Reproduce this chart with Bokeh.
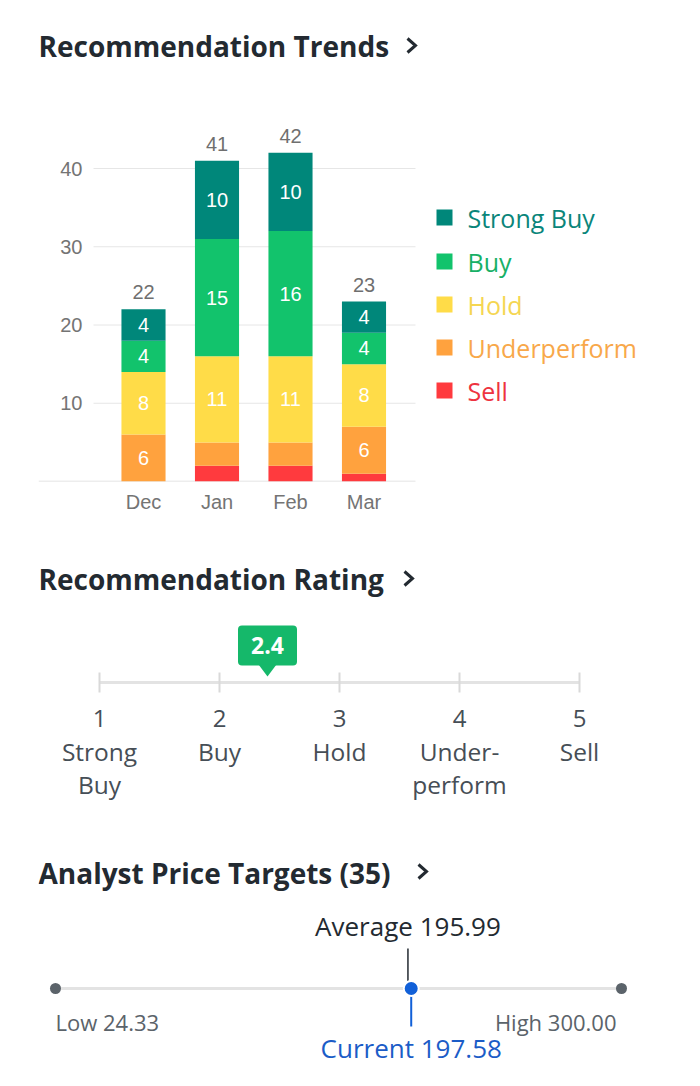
from bokeh.plotting import figure
from bokeh.models import Range1d, FixedTicker, ColumnDataSource
from bokeh.layouts import column
from bokeh.embed import file_html
from bokeh.resources import INLINE
from bokeh.core.properties import value
import numpy as np

# ---------------- data ----------------
months = ["Dec", "Jan", "Feb", "Mar"]
strong_buy = [4, 10, 10, 4]
buy = [4, 15, 16, 4]
hold = [8, 11, 11, 8]
underperform = [6, 3, 3, 6]
sell = [0, 2, 2, 1]
y_ticks = [10, 20, 30, 40]
series_names = ["Strong Buy", "Buy", "Hold", "Underperform", "Sell"]
series_colors = ["#00877a", "#12c36c", "#ffdc48", "#ffa23e", "#ff3a3e"]
legend_text_colors = ["#0a857a", "#17b066", "#f5d652", "#f8a84a", "#ee3340"]

rating_value = 2.4
rating_ticks = [1, 2, 3, 4, 5]
rating_line1 = ["Strong", "Buy", "Hold", "Under-", "Sell"]
rating_line2 = ["Buy", "", "", "perform", ""]

price_low = 24.33
price_high = 300.00
price_average = 195.99
price_current = 197.58
n_targets = 35

TITLE_FONT = value("Open Sans")
BODY_FONT = value("Open Sans")
AXIS_FONT = value("Liberation Sans")
DARK = "#232a31"
GRAY = "#5b636a"
TITLE_SIZE = "28px"

W = 700
H1, H2, H3 = 540, 290, 256
FRAME_LEFT = 38


def chevron(p, x0, cy, **kw):
    p.line(x=[x0, x0 + 8, x0], y=[cy - 7, cy, cy + 7], line_color=DARK,
           line_width=3, line_join="miter", **kw)


# ---------------- figure 1: recommendation trends ----------------
base_y = 481          # pixel row of the baseline
px_per_unit_y = 7.825
px_per_cat = 73.5
first_center = 143

p1 = figure(width=W, height=H1, output_backend="svg", toolbar_location=None,
            x_range=Range1d((FRAME_LEFT - first_center) / px_per_cat,
                            (W - first_center) / px_per_cat),
            y_range=Range1d(0, base_y / px_per_unit_y),
            min_border_left=FRAME_LEFT, min_border_right=0,
            min_border_top=0, min_border_bottom=H1 - base_y)
p1.extra_x_ranges = {"px": Range1d(FRAME_LEFT, W)}
p1.extra_y_ranges = {"px": Range1d(base_y, 0)}
p1.outline_line_color = None
p1.grid.visible = False

xs = list(range(len(months)))
src = ColumnDataSource(dict(x=xs, sell=sell, underperform=underperform, hold=hold,
                            buy=buy, strong_buy=strong_buy))

# grid lines and baseline
p1.segment(x0=[93] * len(y_ticks), x1=[415] * len(y_ticks), y0=y_ticks, y1=y_ticks,
           line_color="#e6e6e6", line_width=1, x_range_name="px")
p1.segment(x0=[FRAME_LEFT], x1=[415], y0=[0], y1=[0],
           line_color="#dcdcdc", line_width=1.5, x_range_name="px")

stack_order = ["sell", "underperform", "hold", "buy", "strong_buy"]
stack_colors = series_colors[::-1]
p1.vbar_stack(stack_order, x="x", width=0.6, color=stack_colors, source=src,
              line_width=0)

# segment labels
vals = np.array([sell, underperform, hold, buy, strong_buy], dtype=float)
bottoms = np.vstack([np.zeros(len(months)), np.cumsum(vals, axis=0)[:-1]])
lx, ly, lt = [], [], []
for i in range(vals.shape[0]):
    for j in range(vals.shape[1]):
        v = vals[i, j]
        if v >= 4:
            lx.append(xs[j])
            ly.append(bottoms[i, j] + v / 2)
            lt.append(str(int(v)))
p1.text(x=lx, y=ly, text=lt, text_align="center", text_baseline="middle",
        text_color="white", text_font=AXIS_FONT, text_font_size="20px")

totals = vals.sum(axis=0)
p1.text(x=xs, y=list(totals), text=[str(int(t)) for t in totals], text_align="center",
        text_baseline="bottom", y_offset=-10, text_color="#6f6f6f",
        text_font=AXIS_FONT, text_font_size="20px")

# axes
p1.yaxis.ticker = FixedTicker(ticks=y_ticks)
p1.yaxis.axis_line_color = None
p1.yaxis.major_tick_line_color = None
p1.yaxis.minor_tick_line_color = None
p1.yaxis.major_tick_out = 0
p1.yaxis.major_label_standoff = -44
p1.yaxis.major_label_text_font = "Liberation Sans"
p1.yaxis.major_label_text_font_size = "20px"
p1.yaxis.major_label_text_color = "#747474"

p1.xaxis.ticker = FixedTicker(ticks=xs)
p1.xaxis.major_label_overrides = {i: m for i, m in zip(xs, months)}
p1.xaxis.axis_line_color = None
p1.xaxis.major_tick_line_color = None
p1.xaxis.minor_tick_line_color = None
p1.xaxis.major_tick_out = 0
p1.xaxis.major_label_standoff = 9
p1.xaxis.major_label_text_font = "Liberation Sans"
p1.xaxis.major_label_text_font_size = "20px"
p1.xaxis.major_label_text_color = "#747474"

# title
p1.text(x=[38], y=[45], text=["Recommendation Trends"], text_baseline="middle",
        text_font=TITLE_FONT, text_font_style="bold", text_font_size=TITLE_SIZE,
        text_color=DARK, x_range_name="px", y_range_name="px")
chevron(p1, 407, 45, x_range_name="px", y_range_name="px")

# legend
leg_rows = [217, 261, 304, 347, 390]
p1.rect(x=[444] * 5, y=leg_rows, width=16, height=16, fill_color=series_colors,
        line_color=None, x_range_name="px", y_range_name="px")
p1.text(x=[467] * 5, y=leg_rows, text=series_names, text_baseline="middle",
        text_color=legend_text_colors, text_font=BODY_FONT, text_font_size="25px",
        x_range_name="px", y_range_name="px")

# ---------------- figure 2: recommendation rating ----------------
r_px = 120
r_x0 = 99
p2 = figure(width=W, height=H2, output_backend="svg", toolbar_location=None,
            x_range=Range1d(1 + (FRAME_LEFT - r_x0) / r_px, 1 + (W - r_x0) / r_px),
            y_range=Range1d(H1 + H2, H1),
            min_border_left=FRAME_LEFT, min_border_right=0,
            min_border_top=0, min_border_bottom=0)
p2.extra_x_ranges = {"px": Range1d(FRAME_LEFT, W)}
p2.outline_line_color = None
p2.grid.visible = False
p2.axis.visible = False

p2.text(x=[38], y=[578], text=["Recommendation Rating"], text_baseline="middle",
        text_font=TITLE_FONT, text_font_style="bold", text_font_size=TITLE_SIZE,
        text_color=DARK, x_range_name="px")
chevron(p2, 404, 578, x_range_name="px")

p2.segment(x0=[rating_ticks[0]], x1=[rating_ticks[-1]], y0=[682], y1=[682],
           line_color="#e3e3e3", line_width=3)
p2.segment(x0=rating_ticks, x1=rating_ticks, y0=[672] * 5, y1=[692] * 5,
           line_color="#d9d9d9", line_width=2)

p2.text(x=rating_ticks, y=[718] * 5, text=[str(t) for t in rating_ticks],
        text_align="center", text_baseline="middle", text_color="#464e56",
        text_font=BODY_FONT, text_font_size="24px")
p2.text(x=rating_ticks, y=[751] * 5, text=rating_line1,
        text_align="center", text_baseline="middle", text_color="#464e56",
        text_font=BODY_FONT, text_font_size="24.5px")
p2.text(x=rating_ticks, y=[784] * 5, text=rating_line2,
        text_align="center", text_baseline="middle", text_color="#464e56",
        text_font=BODY_FONT, text_font_size="24.5px")

badge_half = 29.5 / r_px
tri_half = 9 / r_px
badge_green = "#15b86a"
p2.quad(left=[rating_value - badge_half], right=[rating_value + badge_half],
        top=[625], bottom=[665], fill_color=badge_green, line_color=None,
        border_radius=4)
p2.patch(x=[rating_value - tri_half, rating_value + tri_half, rating_value],
         y=[664, 664, 676], fill_color=badge_green, line_color=None)
p2.text(x=[rating_value], y=[645], text=[f"{rating_value}"], text_align="center",
        text_baseline="middle", text_color="white", text_font=BODY_FONT,
        text_font_style="bold", text_font_size="23px")

# ---------------- figure 3: analyst price targets ----------------
p_left_px, p_right_px = 55, 621
k = (p_right_px - p_left_px) / (price_high - price_low)
p3 = figure(width=W, height=H3, output_backend="svg", toolbar_location=None,
            x_range=Range1d(price_low - (p_left_px - FRAME_LEFT) / k,
                            price_high + (W - p_right_px) / k),
            y_range=Range1d(H1 + H2 + H3, H1 + H2),
            min_border_left=FRAME_LEFT, min_border_right=0,
            min_border_top=0, min_border_bottom=0)
p3.extra_x_ranges = {"px": Range1d(FRAME_LEFT, W)}
p3.outline_line_color = None
p3.grid.visible = False
p3.axis.visible = False

p3.text(x=[38], y=[872], text=[f"Analyst Price Targets ({n_targets})"],
        text_baseline="middle", text_font=TITLE_FONT, text_font_style="bold",
        text_font_size=TITLE_SIZE, text_color=DARK, x_range_name="px")
chevron(p3, 418, 871, x_range_name="px")

p3.segment(x0=[price_low], x1=[price_high], y0=[988], y1=[988],
           line_color="#e3e3e3", line_width=3)
p3.scatter(x=[price_low, price_high], y=[988, 988], size=11, fill_color=GRAY,
           line_color=None)

# average
p3.segment(x0=[price_average], x1=[price_average], y0=[948], y1=[988],
           line_color=DARK, line_width=1.5)
p3.text(x=[price_average], y=[925], text=[f"Average {price_average:.2f}"],
        text_align="center", text_baseline="middle", text_color=DARK,
        text_font=BODY_FONT, text_font_size="26px")

# current
blue = "#1160d8"
p3.segment(x0=[price_current], x1=[price_current], y0=[988], y1=[1026],
           line_color=blue, line_width=2)
p3.scatter(x=[price_current], y=[988], size=15, fill_color=blue,
           line_color="white", line_width=2)
p3.text(x=[price_current], y=[1047], text=[f"Current {price_current:.2f}"],
        text_align="center", text_baseline="middle", text_color="#1b5cc7",
        text_font=BODY_FONT, text_font_size="26px")

# low / high
p3.text(x=[price_low], y=[1021], text=[f"Low {price_low:.2f}"], text_align="left",
        text_baseline="middle", text_color=GRAY, text_font=BODY_FONT,
        text_font_size="22px")
p3.text(x=[price_high], y=[1021], text=[f"High {price_high:.2f}"], text_align="right",
        x_offset=-5, text_baseline="middle", text_color=GRAY, text_font=BODY_FONT,
        text_font_size="22px")

layout = column(p1, p2, p3, spacing=0)
open("out.html", "w").write(file_html(layout, INLINE))
